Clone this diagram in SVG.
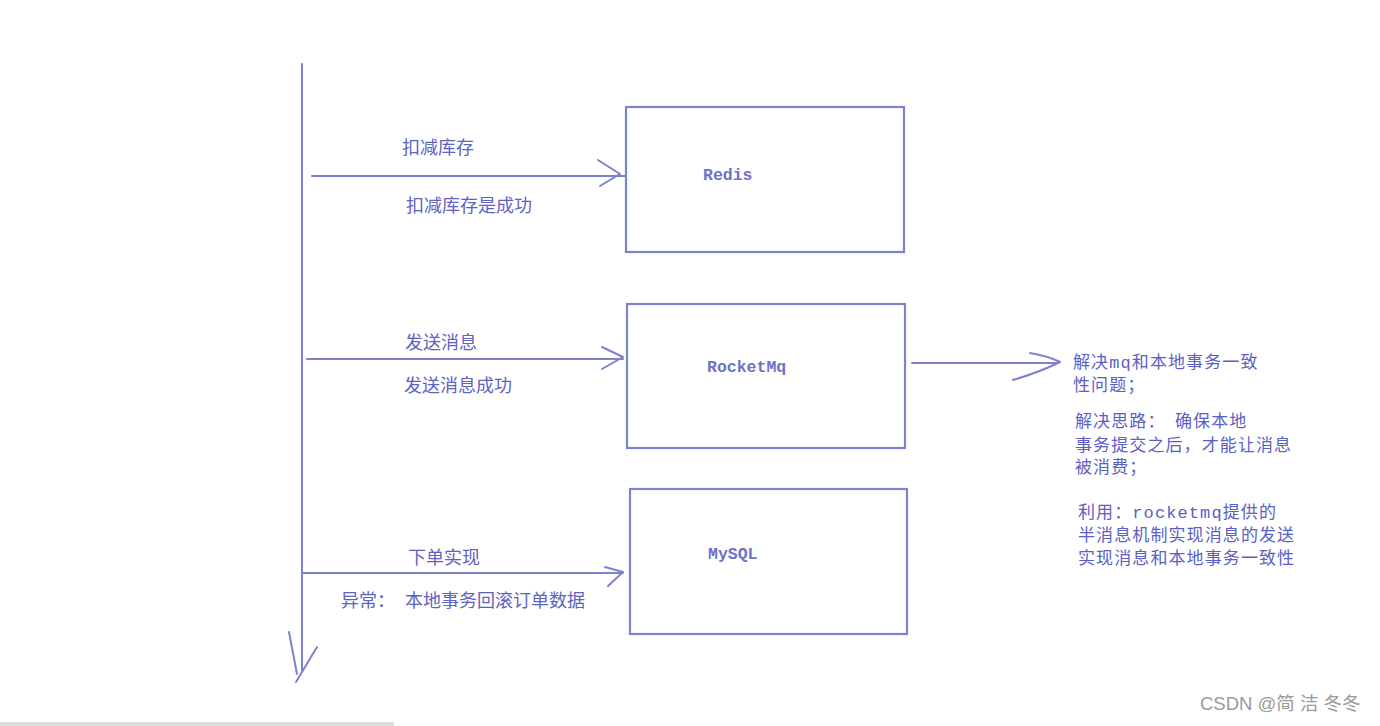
<svg xmlns="http://www.w3.org/2000/svg" width="1380" height="726" viewBox="0 0 1380 726">
<style>
.ln{fill:none;stroke:#7c83cc;stroke-width:2;stroke-linecap:round;stroke-linejoin:round}
.box{fill:#ffffff;stroke:#7c83cc;stroke-width:2.2}
.nm{font-family:"Liberation Mono","DejaVu Sans Mono",monospace;font-size:16.5px;font-weight:bold;fill:#6d73c4}
.lb{font-family:"Noto Sans CJK SC","Noto Sans",sans-serif;font-size:18px;fill:#5d64c0}
.nt{font-family:"Liberation Mono","Noto Sans CJK SC",monospace;font-size:17px;letter-spacing:1.1px;fill:#5a61c4}
.wm{font-family:"Liberation Sans","Noto Sans CJK SC",sans-serif;font-size:18.5px;fill:#9a9a9a}
</style>
<rect width="1380" height="726" fill="#ffffff"/>
<rect x="0" y="722" width="394" height="4" fill="#dcdcdc"/>

<g id="connectors">
  <path class="ln" d="M302,64 L302,672"/>
  <path class="ln" d="M289,632 L297,674 M317,647 L296,682"/>
  <path class="ln" d="M312,176 L628,176"/>
  <path class="ln" d="M598,160 L620,174 L600,186"/>
  <path class="ln" d="M307,359 L623,359"/>
  <path class="ln" d="M602,347 L623,357 L602,369"/>
  <path class="ln" d="M303,573 L623,573"/>
  <path class="ln" d="M605,567 L623,572 L608,586"/>
  <path class="ln" d="M912,363 L1057,363"/>
  <path class="ln" d="M1030,353 Q1048,356 1060,362 Q1040,372 1013,380"/>
</g>

<g id="node-redis">
  <rect class="box" x="626" y="107" width="278" height="145"/>
  <text class="nm" x="703" y="180">Redis</text>
</g>
<g id="node-rocketmq">
  <rect class="box" x="627" y="304" width="278" height="144"/>
  <text class="nm" x="707" y="372">RocketMq</text>
</g>
<g id="node-mysql">
  <rect class="box" x="630" y="489" width="277" height="145"/>
  <text class="nm" x="708" y="559">MySQL</text>
</g>

<g id="labels">
  <text class="lb" x="402" y="154">扣减库存</text>
  <text class="lb" x="406" y="212">扣减库存是成功</text>
  <text class="lb" x="405" y="349">发送消息</text>
  <text class="lb" x="404" y="392">发送消息成功</text>
  <text class="lb" x="408" y="564">下单实现</text>
  <text class="lb" x="341" y="607">异常：</text>
  <text class="lb" x="405" y="607">本地事务回滚订单数据</text>
</g>

<g id="note">
  <text class="nt" x="1073" y="368">解决mq和本地事务一致</text>
  <text class="nt" x="1073" y="391">性问题；</text>
  <text class="nt" x="1075" y="427">解决思路：</text>
  <text class="nt" x="1175" y="427">确保本地</text>
  <text class="nt" x="1075" y="451">事务提交之后，才能让消息</text>
  <text class="nt" x="1075" y="473">被消费；</text>
  <text class="nt" x="1078" y="518">利用：rocketmq提供的</text>
  <text class="nt" x="1078" y="541">半消息机制实现消息的发送</text>
  <text class="nt" x="1078" y="564">实现消息和本地事务一致性</text>
</g>

<text class="wm" x="1200" y="710">CSDN @简 洁 冬冬</text>
</svg>
